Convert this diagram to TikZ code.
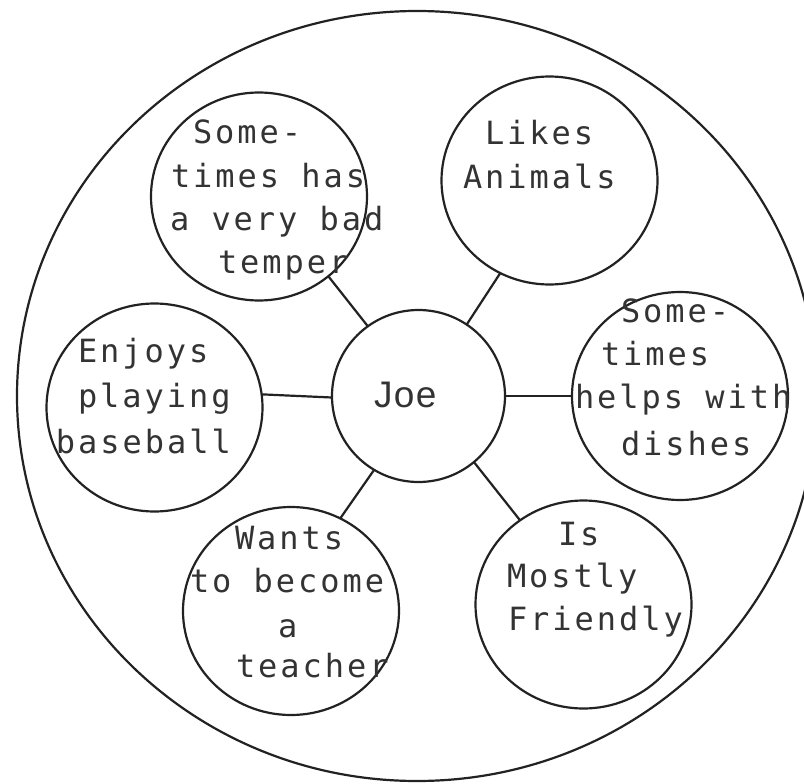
\documentclass[tikz,border=0pt]{standalone}
\usepackage{fontspec}
\usetikzlibrary{shapes.geometric}
\newfontfamily\twfont[LetterSpace=9.3]{DejaVu Sans Mono}
\newfontfamily\joefont[LetterSpace=4]{Liberation Sans}
\definecolor{linec}{HTML}{222222}
\definecolor{textc}{HTML}{333333}
\begin{document}
\begin{tikzpicture}[x=1pt,y=-1pt,
  ln/.style={line width=2.2pt, draw=linec},
  bubble/.style={ellipse, ln, inner sep=0pt, outer sep=0pt, minimum width=216pt, minimum height=208pt},
  txt/.style={anchor=base west, inner sep=0pt, outer sep=0pt, text=textc, font=\twfont\fontsize{32}{32}\selectfont},
]
\fill[white] (0,0) rectangle (804,784);
\clip (0,0) rectangle (804,784);
% outer ring
\draw[ln] (417,396) ellipse [x radius=400, y radius=385];
% bubbles
\node[bubble] (tl) at (259,196.5) {};
\node[bubble] (la) at (549.5,180.5) {};
\node[bubble] (en) at (154.5,407.5) {};
\node[ellipse, ln, inner sep=0pt, outer sep=0pt, minimum width=173pt, minimum height=172pt] (joe) at (418.5,396) {};
\node[bubble] (di) at (680,396) {};
\node[bubble] (wa) at (291,611) {};
\node[bubble] (fr) at (583.5,604.5) {};
% connectors
\draw[ln] (joe.126) -- (tl.311);
\draw[ln] (joe.56) -- (la.242);
\draw[ln] (joe.181) -- (en.7);
\draw[ln] (joe.east) -- (di.west);
\draw[ln] (joe.239) -- (wa.62);
\draw[ln] (joe.310) -- (fr.127);
% texts
\node[txt] (tl1) at (193,143) {Some-};
\node[txt] (tl2) at (171,187) {times has};
\node[txt] (tl3) at (170,230) {a very bad};
\node[txt] (tl4) at (218,273) {temper};
\node[txt] (la1) at (485,144) {Likes};
\node[txt] (la2) at (463,188) {Animals};
\node[txt] (en1) at (78,362) {Enjoys};
\node[txt] (en2) at (78,407) {playing};
\node[txt] (en3) at (56,453) {baseball};
\node[txt, font=\joefont\fontsize{37}{37}\selectfont] (joet) at (374,407) {Joe};
\node[txt] (di1) at (621,322) {Some-};
\node[txt] (di2) at (601,365) {times};
\node[txt] (di3) at (575,408) {helps with};
\node[txt] (di4) at (621,455) {dishes};
\node[txt] (wa1) at (235,549) {Wants};
\node[txt] (wa2) at (190,592) {to become};
\node[txt] (wa3) at (278,637) {a};
\node[txt] (wa4) at (236,677) {teacher};
\node[txt] (fr1) at (558,545) {Is};
\node[txt] (fr2) at (507,587) {Mostly};
\node[txt] (fr3) at (508,630) {Friendly};
\end{tikzpicture}
\end{document}
